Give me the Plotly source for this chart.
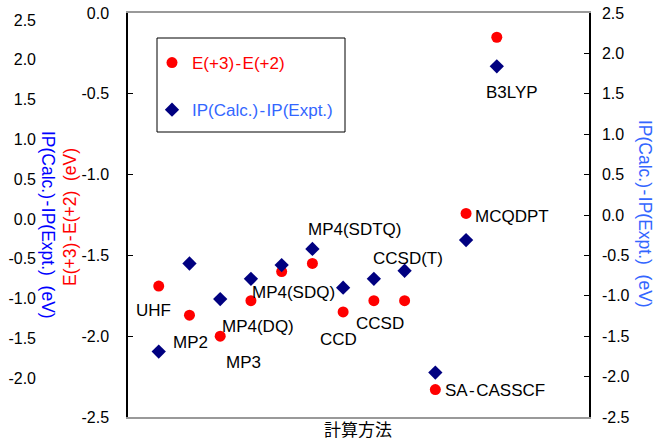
import plotly.graph_objects as go

methods = ["UHF", "MP2", "MP3", "MP4(DQ)", "MP4(SDQ)", "MP4(SDTQ)", "CCD",
           "CCSD", "CCSD(T)", "SA-CASSCF", "MCQDPT", "B3LYP"]
e32 = [-1.69, -1.87, -2.00, -1.78, -1.60, -1.55, -1.85, -1.78, -1.78, -2.33, -1.24, -0.15]
ip_diff = [-1.69, -0.60, -1.04, -0.79, -0.62, -0.42, -0.90, -0.79, -0.69, -1.95, -0.31, 1.84]

inner_ticks = [0.0, -0.5, -1.0, -1.5, -2.0, -2.5]
inner_text = ["0.0", "-0.5", "-1.0", "-1.5", "-2.0", "-2.5"]
outer_ticks = [2.5, 2.0, 1.5, 1.0, 0.5, 0.0, -0.5, -1.0, -1.5, -2.0, -2.5]
outer_text = ["2.5", "2.0", "1.5", "1.0", "0.5", "0.0", "-0.5", "-1.0", "-1.5", "-2.0", "-2.5"]

FONT = "Liberation Sans, Arial, sans-serif"
HS = "\u200a"  # hair space around hyphens, as in the original rendering
W, H = 655, 441
ML, MR, MT, MB = 40, 66, 13, 24
PW = W - ML - MR
PH = H - MT - MB
x_start = (128 - ML) / PW

def px(x):
    return (x - ML) / PW

def py(y):
    return 1 - (y - MT) / PH

name_e = f"E(+3){HS}-{HS}E(+2)"
name_ip = f"IP(Calc.){HS}-{HS}IP(Expt.)"

fig = go.Figure()
fig.add_trace(go.Scatter(
    x=methods, y=e32, mode="markers", yaxis="y",
    marker=dict(symbol="circle", size=11, color="#FF0000"),
    name=f'<span style="color:#FF0000">{name_e}</span>',
    legendgroup="a", showlegend=True))
fig.add_trace(go.Scatter(
    x=methods, y=ip_diff, mode="markers", yaxis="y2",
    marker=dict(symbol="diamond", size=11, color="#000080"),
    name=f'<span style="color:#3366FF">{name_ip}</span>',
    legendgroup="b", showlegend=True))
# outer left axis carrier (invisible)
fig.add_trace(go.Scatter(x=[methods[0]], y=[0], yaxis="y3", mode="markers",
                         marker=dict(opacity=0), showlegend=False, hoverinfo="skip"))

# point labels
label_pos = {
    "UHF": (153, 310), "MP2": (190, 342), "MP3": (243, 362), "MP4(DQ)": (258, 326),
    "MP4(SDQ)": (293, 292), "MP4(SDTQ)": (355, 229), "CCD": (338, 339),
    "CCSD": (380, 323), "CCSD(T)": (408, 258), "SA-CASSCF": (495, 390),
    "MCQDPT": (512, 216), "B3LYP": (512, 93),
}
annotations = []
for m in methods:
    xx, yy = label_pos[m]
    annotations.append(dict(x=px(xx), y=py(yy), xref="paper", yref="paper",
                            text=m.replace("-", f"{HS}-{HS}"), showarrow=False,
                            xanchor="center", yanchor="middle",
                            font=dict(family=FONT, size=17, color="black")))

annotations += [
    dict(x=px(48), y=py(225), xref="paper", yref="paper", text=f"{name_ip}  (eV)",
         textangle=90, showarrow=False, xanchor="center", yanchor="middle",
         font=dict(family=FONT, size=17.5, color="#0000FF")),
    dict(x=px(70), y=py(217), xref="paper", yref="paper", text=f"{name_e}  (eV)",
         textangle=-90, showarrow=False, xanchor="center", yanchor="middle",
         font=dict(family=FONT, size=17.5, color="#FF0000")),
    dict(x=px(645), y=py(214), xref="paper", yref="paper", text=f"{name_ip}  (eV)",
         textangle=90, showarrow=False, xanchor="center", yanchor="middle",
         font=dict(family=FONT, size=17.5, color="#3366FF")),
    dict(x=px(358), y=py(428), xref="paper", yref="paper", text="計算方法",
         showarrow=False, xanchor="center", yanchor="middle",
         font=dict(family="Noto Sans CJK JP", size=17, color="black")),
]

shapes = [
    dict(type="rect", xref="paper", yref="paper",
         x0=px(157), x1=px(345), y0=py(132), y1=py(38),
         line=dict(color="black", width=1), fillcolor="white", layer="below"),
]

fig.update_layout(
    width=W, height=H,
    margin=dict(l=ML, r=MR, t=MT, b=MB, autoexpand=False),
    paper_bgcolor="white", plot_bgcolor="white",
    font=dict(family=FONT, size=16, color="black"),
    xaxis=dict(domain=[x_start, 1], type="category", categoryorder="array",
               categoryarray=methods, range=[-1, 14], showticklabels=False,
               ticks="", showgrid=False, zeroline=False, automargin=False,
               showline=True, linecolor="#999999", linewidth=2, mirror=True),
    yaxis=dict(range=[-2.5, 0], tickvals=inner_ticks, ticktext=inner_text,
               showline=True, linecolor="black", linewidth=1.5, ticks="inside",
               ticklen=5, tickcolor="black", showgrid=False, zeroline=False,
               automargin=False, ticklabelstandoff=14, tickfont=dict(size=16)),
    yaxis2=dict(range=[-2.5, 2.5], tickvals=outer_ticks, ticktext=outer_text,
                overlaying="y", side="right", anchor="x",
                showline=True, linecolor="black", linewidth=1.5, ticks="inside",
                ticklen=5, tickcolor="black", showgrid=False, zeroline=False,
                automargin=False, ticklabelstandoff=8, tickfont=dict(size=16)),
    yaxis3=dict(range=[-2.487, 2.588], tickvals=outer_ticks, ticktext=outer_text,
                overlaying="y", side="left", anchor="free", position=0,
                showline=False, ticks="", showgrid=False, zeroline=False,
                automargin=False, ticklabelstandoff=4, tickfont=dict(size=16)),
    legend=dict(x=px(152), y=py(45), xanchor="left", yanchor="top",
                bgcolor="rgba(0,0,0,0)", borderwidth=0,
                font=dict(family=FONT, size=17), tracegroupgap=22,
                traceorder="grouped"),
    shapes=shapes,
    annotations=annotations,
    showlegend=True,
)

fig.write_html("out.html", config={"displayModeBar": False},
               post_script="document.body.style.margin='0px';")
